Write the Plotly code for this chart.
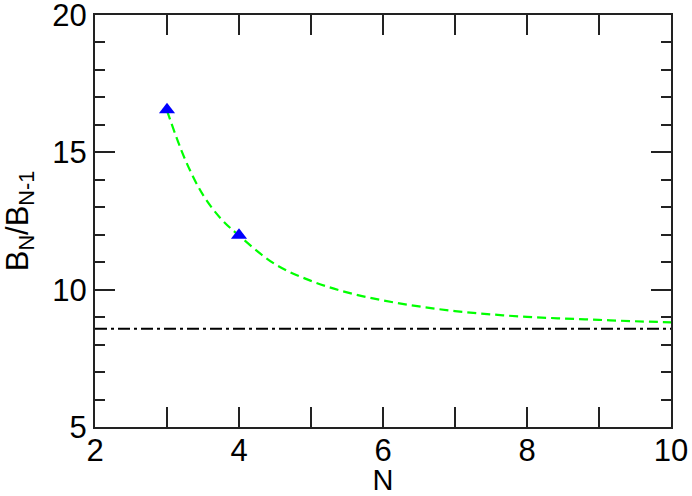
import plotly.graph_objects as go

# data
n_points = [3, 4]
ratio_points = [16.55, 11.98]

fit_n = [3, 3.25, 3.5, 3.75, 4, 4.5, 5, 5.5, 6, 6.5, 7, 7.5, 8, 8.5, 9, 9.5, 10]
fit_ratio = [16.52, 14.75, 13.45, 12.58, 11.97, 10.93, 10.32, 9.90, 9.61, 9.39,
             9.22, 9.10, 9.01, 8.95, 8.90, 8.85, 8.81]

limit_n = [2, 10]
limit_ratio = [8.58, 8.58]

FONT = "Liberation Sans, Arial, Helvetica, sans-serif"

fig = go.Figure()

fig.add_trace(go.Scatter(
    x=limit_n, y=limit_ratio, mode="lines",
    line=dict(color="black", width=2, dash="12px,4px,3px,4px"),
    showlegend=False
))

fig.add_trace(go.Scatter(
    x=fit_n, y=fit_ratio, mode="lines",
    line=dict(color="#00ff00", width=2.2, dash="9px,5px", shape="spline"),
    showlegend=False
))

fig.add_trace(go.Scatter(
    x=n_points, y=ratio_points, mode="markers",
    marker=dict(symbol="triangle-up", color="#0000ff", size=14),
    showlegend=False
))

axis_common = dict(
    showgrid=False, zeroline=False,
    showline=True, linecolor="#222222", linewidth=2,
    mirror="ticks", ticks="inside", tickcolor="#222222", tickwidth=2,
    tickfont=dict(family=FONT, size=31, color="black"),
    ticklabeloverflow="allow",
)

fig.update_xaxes(
    range=[2, 10], dtick=2, tick0=2, ticklen=20, ticklabelstandoff=-5,
    minor=dict(dtick=1, ticks="inside", ticklen=20, tickcolor="#222222", tickwidth=2),
    title=dict(text="N", font=dict(family=FONT, size=29, color="black"), standoff=9),
    **axis_common
)

fig.update_yaxes(
    range=[5, 20.0001], dtick=5, tick0=5, ticklen=20,
    minor=dict(dtick=1, ticks="inside", ticklen=10, tickcolor="#222222", tickwidth=2),
    title=dict(text="B<sub>N</sub>/B<sub>N-1</sub>",
               font=dict(family=FONT, size=31, color="black"), standoff=16),
    **axis_common
)

fig.update_layout(
    width=692, height=496,
    margin=dict(l=95, r=21, t=15, b=69, autoexpand=False),
    paper_bgcolor="white", plot_bgcolor="white",
)

fig.write_html("out.html", config={"displayModeBar": False},
               post_script="document.body.style.margin='0';")
